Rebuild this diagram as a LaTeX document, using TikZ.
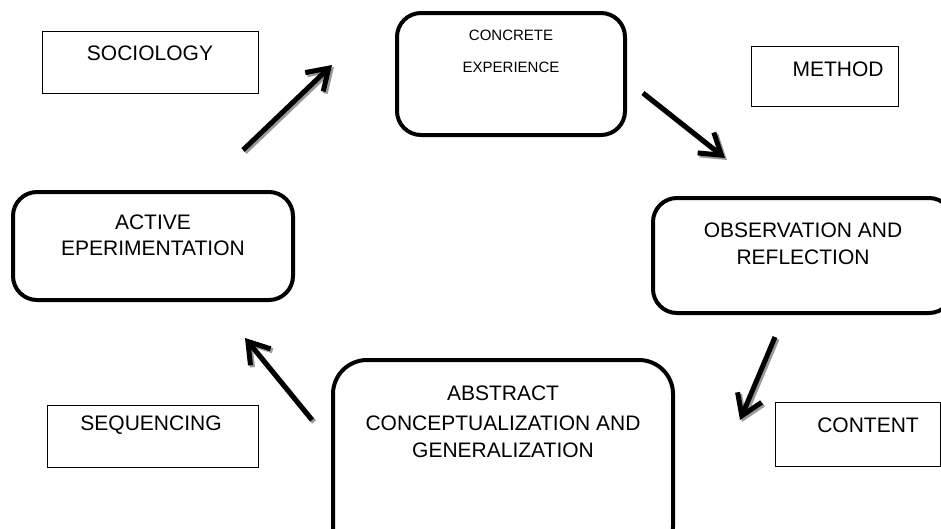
\documentclass[tikz,border=0pt]{standalone}
\usepackage{fontspec}
\setmainfont{Liberation Sans}
\usetikzlibrary{arrows.meta}
\begin{document}
\begin{tikzpicture}[x=1pt,y=-1pt,
  thinbox/.style={draw, line width=0.9pt, inner sep=0pt},
  stagebox/.style={draw, line width=4pt, rounded corners=24pt, inner sep=0pt},
  txt/.style={font=\fontsize{21}{25}\selectfont, inner sep=0pt, anchor=center},
  smalltxt/.style={font=\fontsize{15}{18}\selectfont, inner sep=0pt, anchor=center},
  cyclearrow/.style={line width=5pt, line cap=butt, -{Straight Barb[length=20pt,width=26pt,line width=5pt]}},
  arrowshadow/.style={cyclearrow, draw=black!40}
]
\useasboundingbox (0,0) rectangle (941,528);
\clip (0,0) rectangle (941,528);
\fill[white] (0,0) rectangle (941,528);

% plain boxes
\node[thinbox, minimum width=216pt, minimum height=62pt] (socbox) at (150,62) {};
\node[txt] (soc) at (150,53) {SOCIOLOGY};
\node[thinbox, minimum width=147pt, minimum height=60pt] (methbox) at (824.5,76) {};
\node[txt] (meth) at (838,69) {METHOD};
\node[thinbox, minimum width=211pt, minimum height=62pt] (seqbox) at (152.5,436) {};
\node[txt] (seq) at (151,425) {SEQUENCING};
\node[thinbox, minimum width=165pt, minimum height=64pt] (contbox) at (857.5,434) {};
\node[txt] (cont) at (868,425) {CONTENT};

% stage boxes
\node[stagebox, minimum width=228pt, minimum height=122pt] (concbox) at (511,74) {};
\node[smalltxt] (conc1) at (511,35) {CONCRETE};
\node[smalltxt] (conc2) at (511,67) {EXPERIENCE};

\node[stagebox, minimum width=300pt, minimum height=115pt] (obsbox) at (803,255.5) {};
\node[txt] (obs1) at (803,230) {OBSERVATION AND};
\node[txt] (obs2) at (803,257) {REFLECTION};

\node[stagebox, minimum width=280pt, minimum height=108pt] (actbox) at (153,246) {};
\node[txt] (act1) at (153,222) {ACTIVE};
\node[txt] (act2) at (153,248) {EPERIMENTATION};

\node[stagebox, rounded corners=34pt, minimum width=340pt, minimum height=200pt] (absbox) at (503,460) {};
\node[txt] (abs1) at (503,393) {ABSTRACT};
\node[txt] (abs2) at (503,423) {CONCEPTUALIZATION AND};
\node[txt] (abs3) at (503,450) {GENERALIZATION};

% arrow ends
\coordinate (a1s) at (243,150); \coordinate (a1e) at (332,65);
\coordinate (a2s) at (643,93);  \coordinate (a2e) at (725,158);
\coordinate (a3s) at (775,337); \coordinate (a3e) at (740,420);
\coordinate (a4s) at (312,420); \coordinate (a4e) at (245,338);

% shadows
\draw[arrowshadow] ([shift={(2,2)}]a1s) -- ([shift={(2,2)}]a1e);
\draw[arrowshadow] ([shift={(2,2)}]a2s) -- ([shift={(2,2)}]a2e);
\draw[arrowshadow] ([shift={(2,2)}]a3s) -- ([shift={(2,2)}]a3e);
\draw[arrowshadow] ([shift={(2,2)}]a4s) -- ([shift={(2,2)}]a4e);
% arrows
\draw[cyclearrow] (a1s) -- (a1e);
\draw[cyclearrow] (a2s) -- (a2e);
\draw[cyclearrow] (a3s) -- (a3e);
\draw[cyclearrow] (a4s) -- (a4e);
\end{tikzpicture}
\end{document}
